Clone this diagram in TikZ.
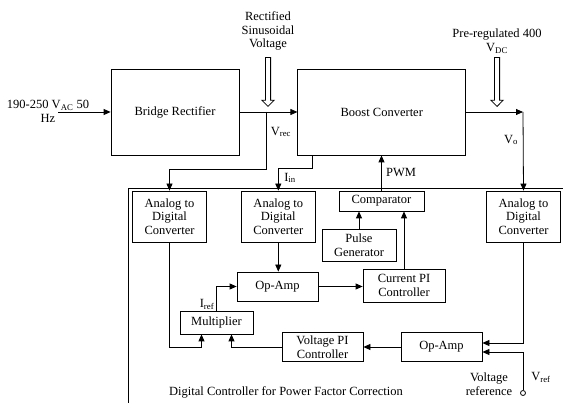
\documentclass[tikz,border=0pt]{standalone}
\usepackage{fontspec}
\setmainfont{Liberation Serif}
\usepackage{tikz}
\usetikzlibrary{shapes,arrows,positioning,arrows.meta,calc}

\begin{document}
\begin{tikzpicture}[
        x=1pt, y=1pt,
        every node/.style={font=\fontsize{12.5}{13.7}\selectfont, align=center},
        block/.style={draw=black, line width=.8pt, inner sep=2pt},
        adc/.style={block, minimum width=74pt, minimum height=51pt},
        hollow/.style={draw=black, line width=.8pt, single arrow, shape border rotate=270, minimum height=49pt, single arrow head extend=3.5pt, single arrow head indent=0pt, inner sep=2.2pt},
        to/.style={-{Triangle[length=7pt,width=6pt]}, line width=.8pt},
        ]
      \useasboundingbox (0,0) rectangle (563,-403);
      \node [block, minimum width=128pt, minimum height=86pt] (bridge-rectifier) at (175,-112) {Bridge Rectifier};
      \node [block, minimum width=168pt, minimum height=86pt, right=58pt of bridge-rectifier] (boost-converter) {Boost Converter};
      \node (ac-input-label) at (48,-111) {190-250 V\textsubscript{AC} 50\\Hz};
      \node (rectified-label) at (268,-31) {Rectified\\Sinusoidal\\Voltage};
      \node [hollow, anchor=tip] (rectified-arrow) at (268,-107) {};
      \node (preregulated-label) at (497,-41) {Pre-regulated 400\\V\textsubscript{DC}};
      \node [hollow, anchor=tip] (preregulated-arrow) at (497,-107) {};
      \node (vrec-label) at (281,-132) {V\textsubscript{rec}};
      \node (vo-label) at (511,-140) {V\textsubscript{o}};
      \node (iin-label) at (290,-178) {I\textsubscript{in}};
      \node (pwm-label) at (401,-173) {PWM};

      \node [adc] (adc-vrec) at (169.5,-216.5) {Analog to\\Digital\\Converter};
      \node [adc, right=34pt of adc-vrec] (adc-iin) {Analog to\\Digital\\Converter};
      \node [adc] (adc-vo) at (523.5,-216.5) {Analog to\\Digital\\Converter};
      \node [block, minimum width=85pt, minimum height=20pt] (comparator) at (381.5,-201) {Comparator};
      \node [block, minimum width=74pt, minimum height=32pt] (pulse-generator) at (359,-245) {Pulse\\Generator};
      \node [block, minimum width=82pt, minimum height=33pt] (current-pi) at (404,-285.5) {Current PI\\Controller};
      \node [block, minimum width=81pt, minimum height=29pt] (op-amp-current) at (277.5,-286.5) {Op-Amp};
      \node [block, minimum width=73pt, minimum height=23pt] (multiplier) at (216.5,-322.5) {Multiplier};
      \node [block, minimum width=81pt, minimum height=29pt] (voltage-pi) at (322.5,-347) {Voltage PI\\Controller};
      \node [block, minimum width=81pt, minimum height=29pt] (op-amp-voltage) at (441.5,-347) {Op-Amp};
      \node [draw=black, line width=.8pt, circle, inner sep=0pt, minimum size=5pt] (vref-pin) at (523,-393) {};
      \node (iref-label) at (207,-304) {I\textsubscript{ref}};
      \node (vref-label) at (541,-377) {V\textsubscript{ref}};
      \node (vref-text) at (489,-384) {Voltage\\reference};
      \node (controller-label) at (286,-392) {Digital Controller for Power Factor Correction};

      \coordinate (ac-in) at (58,-112);
      \coordinate (vrec-split) at (266,-112);
      \coordinate (vo-split) at (523,-112);

      \draw [line width=.8pt] (563,-188) -| (128,-403);
      \draw[to] (ac-in) -- (bridge-rectifier);
      \draw[to] (bridge-rectifier) -- (boost-converter);
      \draw[to] (boost-converter.east) -- (vo-split);
      \draw[to] (vo-split) -- (adc-vo.north);
      \draw[to] (vrec-split) -- ++(0,-57) -| (adc-vrec.north);
      \draw[to] ([xshift=15pt]boost-converter.south west) -- ++(0,-13) -| (adc-iin.north);
      \draw[to] (comparator.north) -- (comparator.north |- boost-converter.south);
      \draw[to] (pulse-generator.north) -- (pulse-generator.north |- comparator.south);
      \draw[to] (current-pi.north) -- (current-pi.north |- comparator.south);
      \draw[to] (adc-iin.south) -- (adc-iin.south |- op-amp-current.north);
      \draw[to] (op-amp-current.east) -- (op-amp-current.east -| current-pi.west);
      \draw[to] (multiplier.north) |- (op-amp-current.west);
      \draw[to] (adc-vrec.south) -- ++(0,-105) -| ([xshift=-15pt]multiplier.south);
      \draw[to] (voltage-pi.west) -| ([xshift=15pt]multiplier.south);
      \draw[to] (op-amp-voltage.west) -- (voltage-pi.east);
      \draw[to] (adc-vo.south) |- ([yshift=4pt]op-amp-voltage.east);
      \draw[to] (vref-pin.north) |- ([yshift=-5pt]op-amp-voltage.east);
    \end{tikzpicture}
\end{document}
